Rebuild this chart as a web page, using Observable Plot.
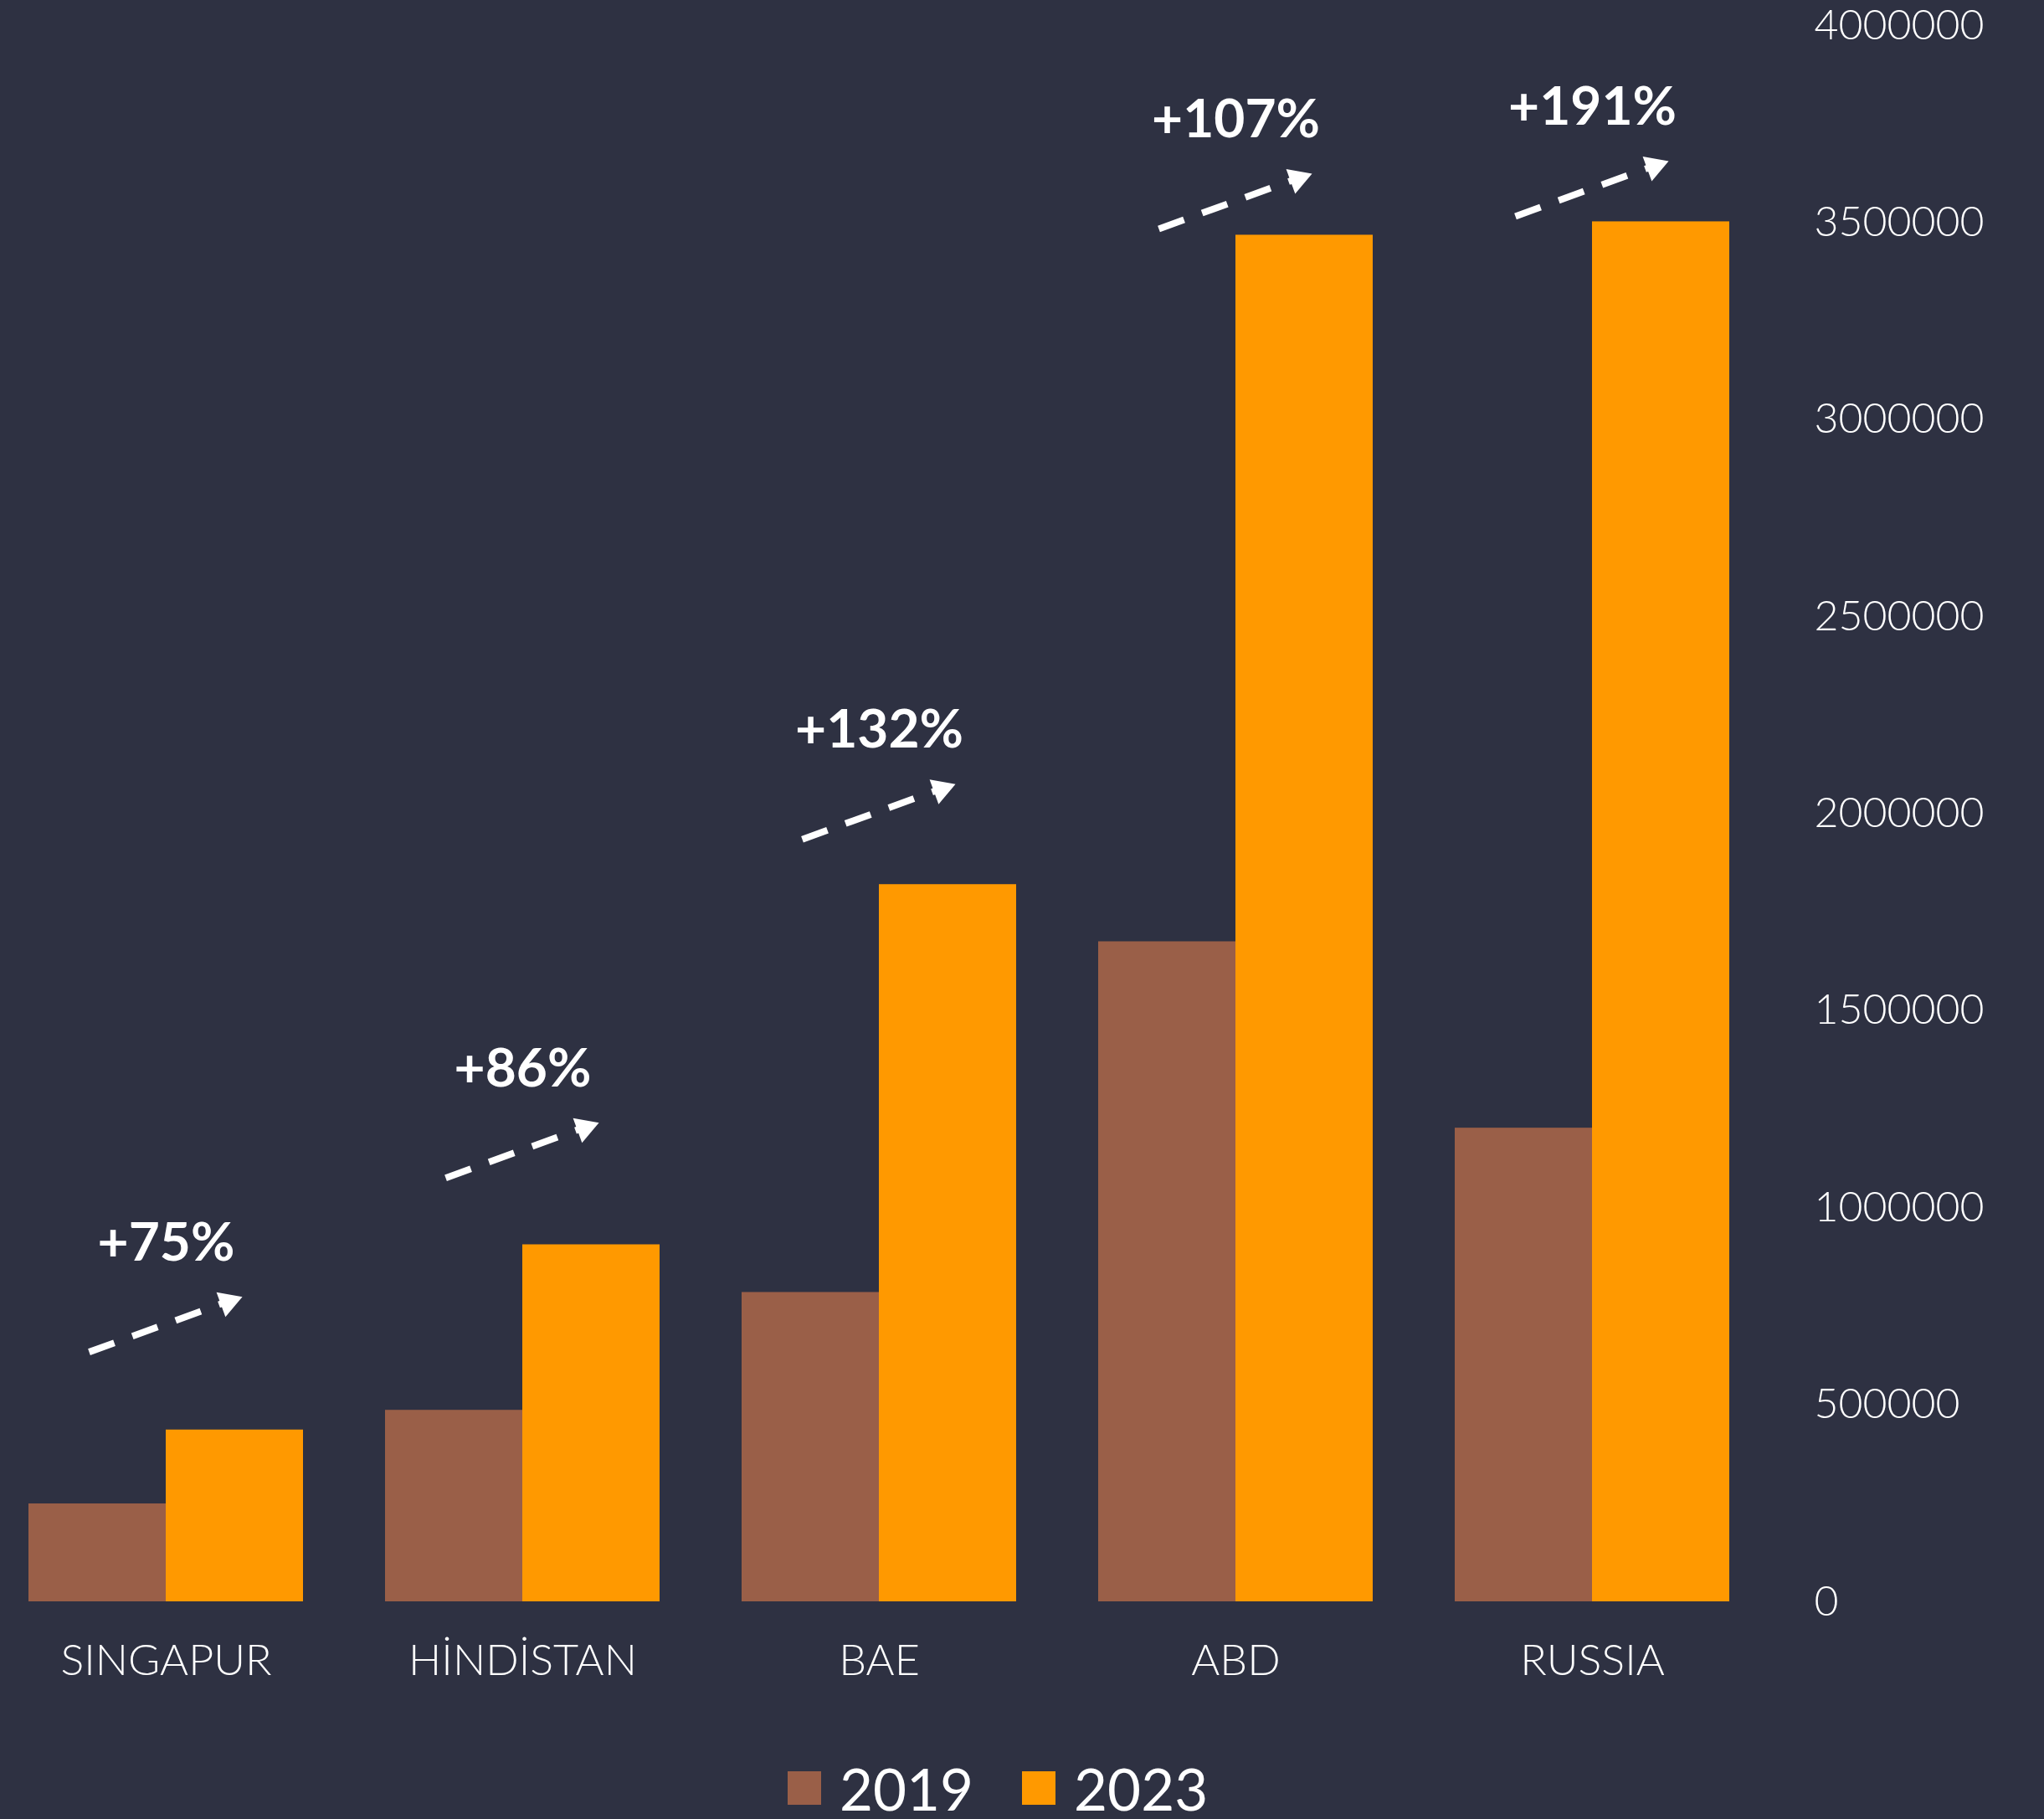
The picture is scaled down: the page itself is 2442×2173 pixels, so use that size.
<!DOCTYPE html>
<html>
<head>
<meta charset="utf-8">
<script src="https://cdn.jsdelivr.net/npm/d3@7"></script>
<script src="https://cdn.jsdelivr.net/npm/@observablehq/plot@0.6"></script>
<style>
  html, body { margin: 0; padding: 0; background: #2E3142; }
  #chart { width: 2442px; }
  .legend { display: flex; align-items: center; height: 80px; margin-top: 36px; margin-left: 941px;
            font-family: Lato, sans-serif; font-size: 69px; color: #fff; line-height: 1; }
  .legend .sw { width: 40px; height: 40px; margin-right: 22px; }
  .legend .item { display: flex; align-items: center; margin-right: 58px; }
</style>
</head>
<body>
<div id="chart"></div>
<script>
// ---- data ----
const categories = ["SINGAPUR", "HİNDİSTAN", "BAE", "ABD", "RUSSIA"];
const years = ["2019", "2023"];
const values2019 = [248500, 486000, 785000, 1675000, 1202000];
const values2023 = [436000, 906000, 1820000, 3468000, 3502000];
const growthLabels = ["+75%", "+86%", "+132%", "+107%", "+191%"];
const yTicks = [0, 500000, 1000000, 1500000, 2000000, 2500000, 3000000, 3500000, 4000000];
const colors = ["#9A5F48", "#FF9900"];

// ---- tables ----
const bars = categories.flatMap((c, i) => [
  {country: c, year: years[0], value: values2019[i]},
  {country: c, year: years[1], value: values2023[i]}
]);
const notes = categories.map((c, i) => ({country: c, label: growthLabels[i], v: values2023[i]}));
const labelY = d => 0.94 * d.v + 500000;

const chart = Plot.plot({
  width: 2442,
  height: 2060,
  marginLeft: 0,
  marginRight: 341,
  marginTop: 30,
  marginBottom: 147,
  style: {background: "transparent", color: "#fff", fontFamily: "Lato, sans-serif", overflow: "visible"},
  fx: {domain: categories, paddingInner: 0.229, paddingOuter: 0.08, axis: null, label: null},
  x: {domain: years, padding: 0, axis: null, label: null},
  y: {domain: [0, 4000000], axis: null, label: null},
  color: {domain: years, range: colors},
  marks: [
    Plot.barY(bars, {fx: "country", x: "year", y: "value", fill: "year", inset: 0}),
    Plot.link(notes, {
      fx: "country",
      x1: () => "2019", x2: () => "2023",
      y1: d => labelY(d) - 276000, y2: d => labelY(d) - 149000,
      stroke: "#fff", strokeWidth: 8, strokeDasharray: "32,23", dx: -10
    }),
    Plot.dot(notes, {
      fx: "country", x: () => "2023", y: d => labelY(d) - 149000,
      symbol: "triangle2", r: 15, rotate: 70, fill: "#fff", stroke: null, dx: -8
    }),
    Plot.text(notes, {
      fx: "country", y: labelY, text: "label",
      fill: "#fff", fontSize: 64, fontWeight: "bold", lineAnchor: "middle"
    }),
    Plot.axisFx({anchor: "bottom", tickSize: 0, tickPadding: 51, fontSize: 52, fontWeight: 300, fill: "#fff", label: null}),
    Plot.axisY({anchor: "right", ticks: yTicks, tickFormat: d => String(d), tickSize: 0,
                tickPadding: 101, fontSize: 50, fontWeight: 300, fill: "#fff", label: null})
  ]
});
document.getElementById("chart").appendChild(chart);

// legend
const legend = document.createElement("div");
legend.className = "legend";
years.forEach((y, i) => {
  const item = document.createElement("div");
  item.className = "item";
  const sw = document.createElement("div");
  sw.className = "sw";
  sw.style.background = colors[i];
  const t = document.createElement("span");
  t.textContent = y;
  item.appendChild(sw); item.appendChild(t);
  legend.appendChild(item);
});
document.body.appendChild(legend);
</script>
</body>
</html>
